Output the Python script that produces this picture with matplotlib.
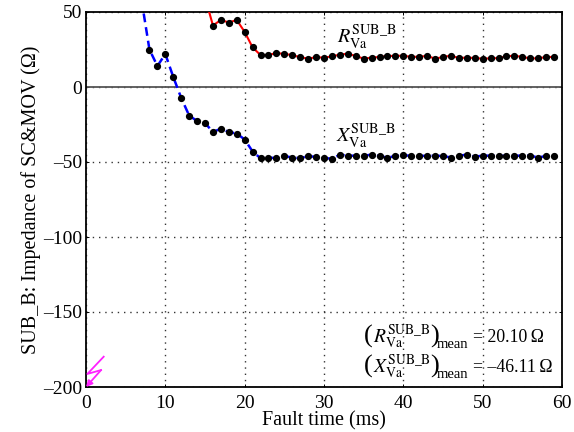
import matplotlib
matplotlib.use("Agg")
import matplotlib.pyplot as plt

plt.rcParams['font.family'] = ['Liberation Serif', 'DejaVu Serif']
plt.rcParams['mathtext.fontset'] = 'stix'

t_r = list(range(15, 60))
r_vals = [60, 41, 44.7, 43, 44.7, 36.7, 26.4, 21.3, 21.3, 22.7, 22, 21.3, 19.8, 19, 19.8,
          19.6, 20.4, 21.6, 22.2, 20.7, 18.9, 19.6, 20, 20.7, 20.7, 20.9, 20, 20.2, 20.7,
          18.9, 20, 20.9, 19.3, 19.6, 19.3, 18.9, 19.1, 19.3, 20.4, 20.9, 20, 19.1, 19.1, 20, 20]
t_x = list(range(7, 60))
x_vals = [58, 24.9, 14, 22, 6.7, -7.3, -19, -22.7, -24, -30, -27.8, -30, -31, -35, -43,
          -47.5, -47, -47.5, -46, -47, -47.5, -46, -46.7, -47.1, -48, -45.1, -45.8, -45.8,
          -45.8, -45.1, -46, -47.1, -46, -45.6, -45.8, -45.8, -46, -45.8, -46, -47, -45.8,
          -45.1, -46.4, -45.8, -45.8, -46, -45.8, -45.8, -45.8, -45.8, -47, -46, -46]
bolt_x = [2.23, 0.17, 1.9]
bolt_y = [-179.8, -191.3, -188.7]
bolt_tip = (0, -200)
x_ticks = [0, 10, 20, 30, 40, 50, 60]
y_ticks = [-200, -150, -100, -50, 0, 50]
y_labels = ['\u2013200', '\u2013150', '\u2013100', '\u201350', '0', '50']

fig = plt.figure(figsize=(5.74, 4.32), dpi=100)
ax = fig.add_axes([86/574, 1-387/432, (562-86)/574, (387-12)/432])

ax.grid(True, color='#333333', linestyle=(0, (1, 3.5)), linewidth=1.0)
ax.axhline(0, color='#555555', linewidth=1.3, zorder=2)
ax.plot(t_r, r_vals, color='red', linewidth=1.5, zorder=3)
ax.plot(t_x, x_vals, color='blue', linewidth=1.8, linestyle=(0, (3.5, 2)), zorder=3)
ax.plot(t_r, r_vals, 'o', color='black', markersize=4.2, zorder=4)
ax.plot(t_x, x_vals, 'o', color='black', markersize=4.2, zorder=4)

ax.plot(bolt_x, bolt_y, color='#ff20ff', linewidth=1.3, zorder=5, clip_on=False)
ax.annotate('', xy=bolt_tip, xytext=(bolt_x[-1], bolt_y[-1]),
            arrowprops=dict(arrowstyle='-|>', color='#ff20ff', lw=1.3, shrinkA=0, shrinkB=0,
                            mutation_scale=9), annotation_clip=False, zorder=5)

ax.set_xlim(0, 60)
ax.set_ylim(-200, 50)
ax.set_xticks(x_ticks)
ax.set_yticks(y_ticks)
ax.set_yticklabels(y_labels)
ax.tick_params(direction='in', length=2.5, width=0.7, top=True, right=True, labelsize=14, pad=3)
ax.tick_params(axis='x', pad=6)
for s in ax.spines.values():
    s.set_linewidth(1.3)
ax.set_xlabel('Fault time (ms)', fontsize=14.5, labelpad=-0.5)
ax.set_ylabel('SUB_B: Impedance of SC&MOV (\u03a9)', fontsize=14.5, labelpad=1)

ax.text(31.7, 33, r'$R_{\mathrm{Va}}^{\mathrm{SUB\_B}}$', fontsize=14.5, ha='left', va='center')
ax.text(31.5, -33, r'$X_{\mathrm{Va}}^{\mathrm{SUB\_B}}$', fontsize=14.5, ha='left', va='center')


def px_text(x, y, s, size):
    fig.text(x/574, 1-y/432, s, fontsize=size, ha='left', va='center')


for sym, value, yc in [('R', '20.10', 337), ('X', '\u201346.11', 367)]:
    px_text(364, yc-1, '(', 19)
    px_text(373, yc, r'$%s_{\mathrm{Va}}^{\mathrm{SUB\_B}}$' % sym, 14)
    px_text(430, yc-1, ')', 19)
    px_text(437, yc+7, 'mean', 10.5)
    px_text(473, yc, '= ' + value + '\u2009\u03a9', 12.8)

fig.savefig('out.png', dpi=100)
